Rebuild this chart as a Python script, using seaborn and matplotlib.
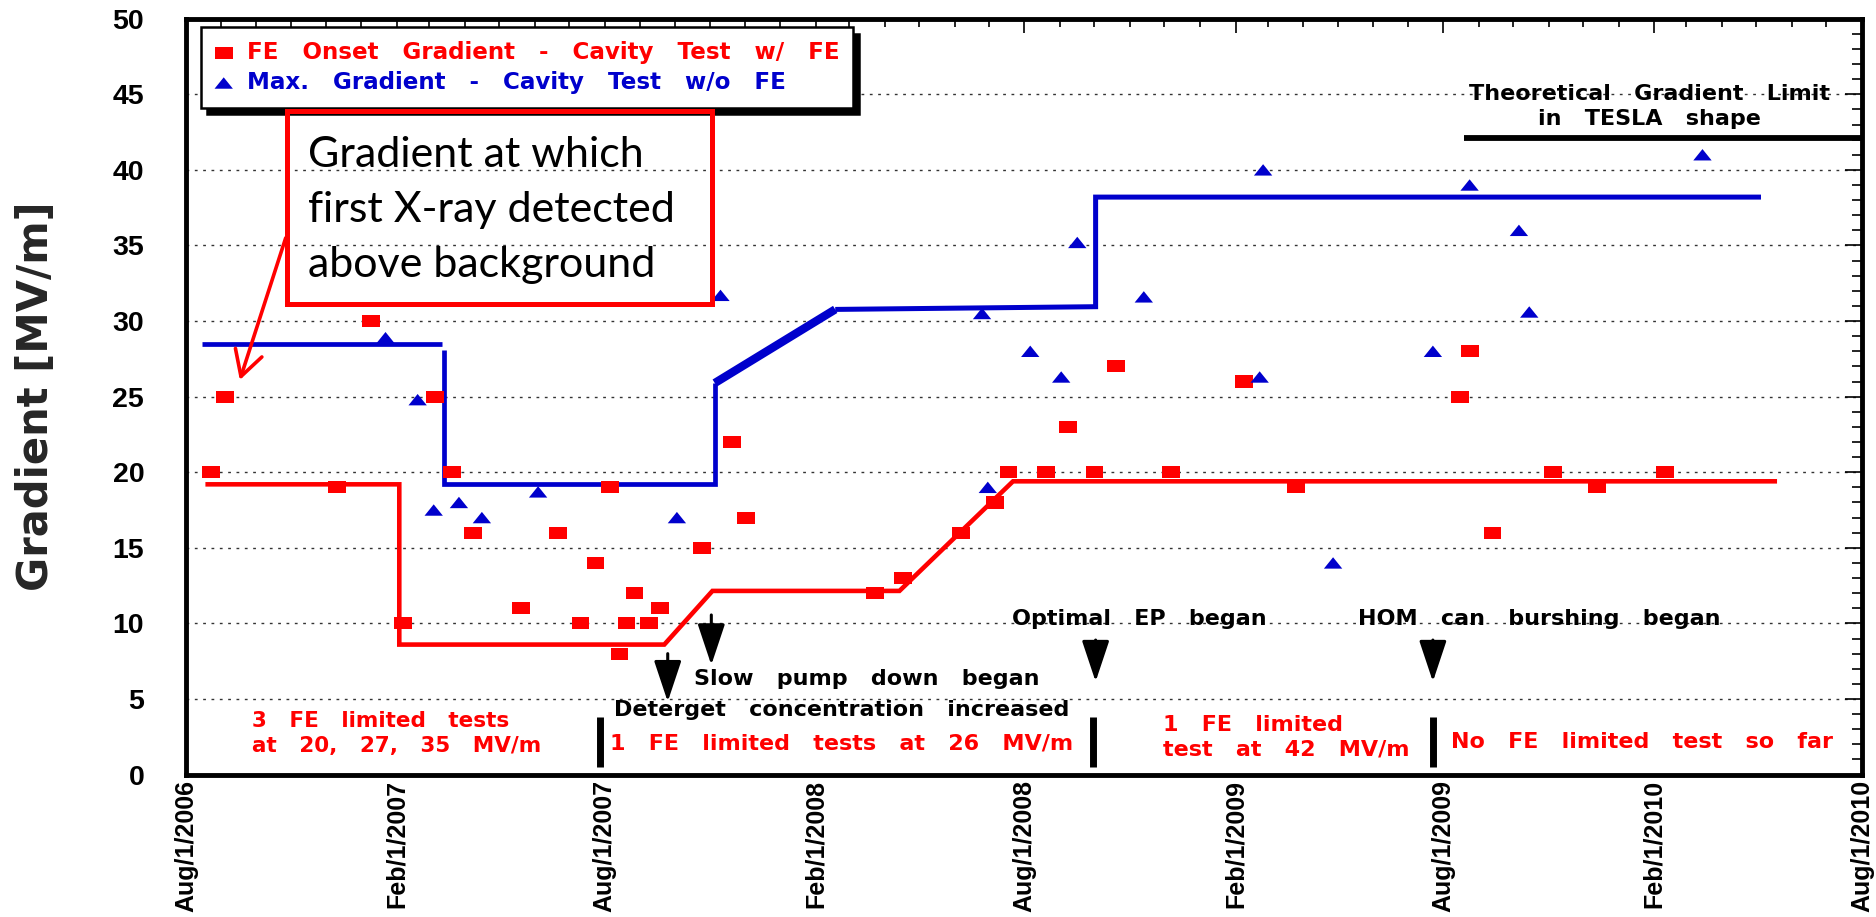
import numpy as np
import pandas as pd
import matplotlib
matplotlib.use("Agg")
import matplotlib.pyplot as plt
import matplotlib.dates as mdates
from matplotlib.patches import Rectangle, ArrowStyle
from matplotlib.ticker import MultipleLocator, FixedLocator
import seaborn as sns

# ---------------- data ----------------
fe_dates = ["2006-08-23", "2006-09-04", "2006-12-11", "2007-01-09", "2007-02-06",
            "2007-03-06", "2007-03-21", "2007-04-08", "2007-05-20", "2007-06-21",
            "2007-07-11", "2007-07-24", "2007-08-06", "2007-08-14", "2007-08-20",
            "2007-08-27", "2007-09-09", "2007-09-18", "2007-10-25", "2007-11-20",
            "2007-12-02", "2008-03-24", "2008-04-17", "2008-06-07", "2008-07-06",
            "2008-07-18", "2008-08-20", "2008-09-08", "2008-10-01", "2008-10-20",
            "2008-12-07", "2009-02-08", "2009-03-26", "2009-08-16", "2009-08-24",
            "2009-09-13", "2009-11-05", "2009-12-13", "2010-02-10"]
fe_values = [20, 25, 19, 30, 10, 25, 20, 16, 11, 16, 10, 14, 19, 8, 10, 12, 10, 11, 15, 22,
             17, 12, 13, 16, 18, 20, 20, 23, 20, 27, 20, 26, 19, 25, 28, 16, 20, 19, 20]

max_dates = ["2007-01-22", "2007-02-19", "2007-03-05", "2007-03-27", "2007-04-16",
             "2007-06-04", "2007-10-03", "2007-11-10", "2008-06-25", "2008-06-30",
             "2008-08-06", "2008-09-02", "2008-09-16", "2008-11-13", "2009-02-22",
             "2009-02-25", "2009-04-27", "2009-07-23", "2009-08-24", "2009-10-06",
             "2009-10-15", "2010-03-15"]
max_values = [28.9, 24.8, 17.5, 18, 17, 18.7, 17, 31.7, 30.5, 19, 28, 26.3, 35.2, 31.6,
              26.3, 40, 14, 28, 39, 36, 30.6, 41]

# FE onset trend (red)
fe_trend_dates = ["2006-08-18", "2007-02-03", "2007-02-03", "2007-09-22", "2007-11-03",
                  "2008-04-14", "2008-07-22", "2010-05-19"]
fe_trend_values = [19.2, 19.2, 8.6, 8.6, 12.15, 12.15, 19.4, 19.4]

# max gradient trend (blue), in segments
max_trend_seg = ["a", "a", "b", "b", "b", "b", "c", "c", "d", "d", "d", "d"]
max_trend_dates = ["2006-08-15", "2007-03-12",
                   "2007-03-14", "2007-03-14", "2007-11-05", "2007-11-05",
                   "2007-11-05", "2008-02-18",
                   "2008-02-18", "2008-10-02", "2008-10-02", "2010-05-05"]
max_trend_values = [28.48, 28.48,
                    28.08, 19.2, 19.2, 25.9,
                    25.9, 30.77,
                    30.77, 30.95, 38.2, 38.2]

theory_limit = 42.1
theory_dates = ["2009-08-19", "2010-08-01"]

xtick_dates = ["2006-08-01", "2007-02-01", "2007-08-01", "2008-02-01", "2008-08-01",
               "2009-02-01", "2009-08-01", "2010-02-01", "2010-08-01"]
xtick_labels = ["Aug/1/2006", "Feb/1/2007", "Aug/1/2007", "Feb/1/2008", "Aug/1/2008",
                "Feb/1/2009", "Aug/1/2009", "Feb/1/2010", "Aug/1/2010"]

legend_labels = ["FE   Onset   Gradient   -   Cavity   Test   w/   FE",
                 "Max.   Gradient   -   Cavity   Test   w/o   FE"]

# ---------------- style ----------------
sns.set_theme(style="white")
plt.rcParams["font.family"] = ["DejaVu Sans"]

RED = "#ff0000"
BLUE = "#0000cc"
d2n = lambda s: mdates.date2num(pd.Timestamp(s))

fig = plt.figure(figsize=(18.76, 9.17), dpi=100)
ax = fig.add_axes([0.0991, 0.1553, 0.8934, 0.8243])

fe_df = pd.DataFrame({"date": pd.to_datetime(fe_dates), "gradient": fe_values})
max_df = pd.DataFrame({"date": pd.to_datetime(max_dates), "gradient": max_values})
fe_tr = pd.DataFrame({"date": pd.to_datetime(fe_trend_dates), "gradient": fe_trend_values})
max_tr = pd.DataFrame({"date": pd.to_datetime(max_trend_dates), "gradient": max_trend_values,
                       "seg": max_trend_seg})

# trend lines
sns.lineplot(data=fe_tr, x="date", y="gradient", sort=False, estimator=None,
             color=RED, lw=3.3, ax=ax, zorder=3)
seg_lw = {"a": 3.4, "b": 3.4, "c": 6.0, "d": 3.6}
for seg, grp in max_tr.groupby("seg"):
    sns.lineplot(data=grp, x="date", y="gradient", sort=False, estimator=None,
                 color=BLUE, lw=seg_lw[seg], ax=ax, zorder=3)
for line in ax.lines:
    line.set_solid_joinstyle("miter")
    line.set_solid_capstyle("butt")

# markers
sq = [(-1, -0.68), (1, -0.68), (1, 0.68), (-1, 0.68)]
tri = [(-1, -0.62), (1, -0.62), (0, 0.62)]
sns.scatterplot(data=fe_df, x="date", y="gradient", marker=sq, s=165, color=RED,
                edgecolor="none", linewidth=0, ax=ax, zorder=4, label=legend_labels[0])
sns.scatterplot(data=max_df, x="date", y="gradient", marker=tri, s=175, color=BLUE,
                edgecolor="none", linewidth=0, ax=ax, zorder=4, label=legend_labels[1])

# theoretical limit line
ax.hlines(theory_limit, d2n(theory_dates[0]), d2n(theory_dates[1]), color="black", lw=4.2,
          zorder=3)

# axes limits / ticks
ax.set_xlim(d2n("2006-08-01"), d2n("2010-08-01"))
ax.set_ylim(0, 50)
ax.xaxis.set_major_locator(FixedLocator([d2n(d) for d in xtick_dates]))
ax.set_xticklabels(xtick_labels, rotation=90, ha="center", va="top")
ax.xaxis.set_minor_locator(mdates.MonthLocator())
ax.yaxis.set_major_locator(MultipleLocator(5))
ax.yaxis.set_minor_locator(MultipleLocator(1))
ax.tick_params(which="both", direction="in", top=True, right=True, colors="black", width=1.2)
ax.tick_params(axis="x", which="major", length=9.8, pad=4)
ax.tick_params(axis="x", which="minor", length=5.4)
ax.tick_params(axis="y", which="major", length=12.6, pad=30)
ax.tick_params(axis="y", which="minor", length=7.5)
for lbl in ax.get_xticklabels():
    lbl.set_fontfamily("Liberation Sans")
    lbl.set_fontweight("bold")
    lbl.set_fontsize(18)
for lbl in ax.get_yticklabels():
    lbl.set_fontfamily("Liberation Sans")
    lbl.set_fontweight("bold")
    lbl.set_fontsize(20.5)
ax.set_xlabel("")
ax.set_ylabel("Gradient [MV/m]", fontsize=30, fontweight="bold", va="center")
ax.yaxis.set_label_coords(-0.0895, 0.5)

ax.yaxis.grid(True, which="major", linestyle=(0, (2, 4)), color="#333333", lw=1.0)
ax.set_axisbelow(True)
for sp in ax.spines.values():
    sp.set_linewidth(3.5)
    sp.set_color("black")

# legend
handles, labels = ax.get_legend_handles_labels()
leg = ax.legend(handles, labels, loc="upper left", bbox_to_anchor=(0.0088, 0.9886),
                borderaxespad=0, frameon=True, fancybox=False, edgecolor="black",
                framealpha=1, prop=dict(family="DejaVu Sans", weight="bold", size=16.6),
                handlelength=0.8, handletextpad=0.6, labelspacing=0.3, borderpad=0.6,
                shadow={"ox": 4.5, "oy": -4.5, "facecolor": "black", "edgecolor": "black",
                        "alpha": 1})
leg.get_frame().set_linewidth(1.8)
for txt, col in zip(leg.get_texts(), [RED, BLUE]):
    txt.set_color(col)
leg.set_zorder(6)

# annotation box
ax.add_patch(Rectangle((0.0601, 0.6222), 0.2536, 0.2557, transform=ax.transAxes,
                       fill=False, edgecolor=RED, lw=3.6, zorder=7))
ax.text(0.0728, 0.747, "Gradient at which\nfirst X-ray detected\nabove background",
        transform=ax.transAxes, ha="left", va="center", fontsize=31, family="Lato",
        linespacing=1.55, color="black", zorder=7)
ax.annotate("", xy=(d2n("2006-09-17"), 26.1), xytext=(d2n("2006-10-27"), 35.5),
            arrowprops=dict(arrowstyle=ArrowStyle("->", head_length=0.9, head_width=0.5),
                            color=RED, lw=2.6, mutation_scale=20, shrinkA=0, shrinkB=0),
            zorder=7)

# event arrows
def event_arrow(date, tail, tip):
    ax.annotate("", xy=(d2n(date), tip), xytext=(d2n(date), tail),
                arrowprops=dict(arrowstyle=ArrowStyle("-|>", head_length=1.5, head_width=0.5),
                                color="black", lw=2.2, mutation_scale=17,
                                shrinkA=0, shrinkB=0), zorder=5)

event_arrow("2007-09-25", 8.0, 4.82)
event_arrow("2007-11-02", 10.56, 7.25)
event_arrow("2008-10-02", 8.9, 6.15)
event_arrow("2009-07-23", 8.9, 6.15)

# separators
for d in ["2007-07-28", "2008-09-30", "2009-07-23"]:
    ax.vlines(d2n(d), 0.52, 3.83, color="black", lw=5, zorder=5)

bk = dict(fontsize=16, fontweight="bold", family="DejaVu Sans", color="black",
          ha="left", va="baseline", zorder=5)
rd = dict(bk, color=RED)
ax.text(d2n("2007-10-18"), 5.93, "Slow   pump   down   began", **bk)
ax.text(d2n("2007-08-09"), 3.88, "Deterget   concentration   increased", **bk)
ax.text(d2n("2008-07-21"), 9.9, "Optimal   EP   began", **bk)
ax.text(d2n("2009-05-19"), 9.9, "HOM   can   burshing   began", **bk)
ax.text(d2n("2010-01-28"), 44.6, "Theoretical   Gradient   Limit", **dict(bk, ha="center"))
ax.text(d2n("2010-01-28"), 42.96, "in   TESLA   shape", **dict(bk, ha="center"))

ax.text(d2n("2006-09-28"), 3.17, "3   FE   limited   tests", **dict(rd, fontsize=15.5))
ax.text(d2n("2006-09-28"), 1.51, "at   20,   27,   35   MV/m", **dict(rd, fontsize=15.5))
ax.text(d2n("2007-08-06"), 1.63, "1   FE   limited   tests   at   26   MV/m", **rd)
ax.text(d2n("2008-11-30"), 2.9, "1   FE   limited", **rd)
ax.text(d2n("2008-11-30"), 1.23, "test   at   42   MV/m", **rd)
ax.text(d2n("2009-08-08"), 1.74, "No   FE   limited   test   so   far", **rd)

fig.savefig("out.png", dpi=100)
